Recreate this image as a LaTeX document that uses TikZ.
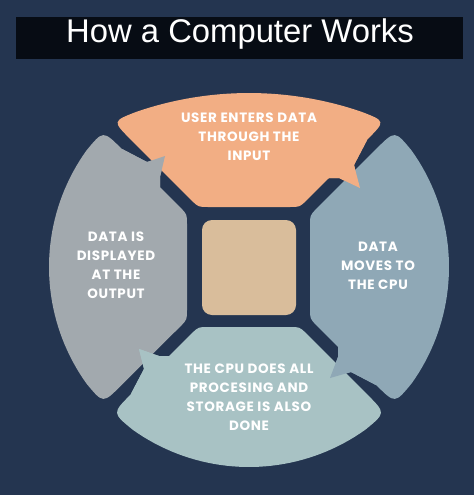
\documentclass[tikz,border=0pt]{standalone}
\usepackage{fontspec}
\setmainfont{Liberation Sans}
\newfontfamily\segfont{Poppins}[LetterSpace=5]
\usetikzlibrary{calc}
\definecolor{bgcol}{HTML}{243550}
\definecolor{barcol}{HTML}{070C14}
\definecolor{orcol}{HTML}{F2AE84}
\definecolor{grcol}{HTML}{A2A9AE}
\definecolor{blcol}{HTML}{8FA8B6}
\definecolor{btcol}{HTML}{A8C2C4}
\definecolor{sqcol}{HTML}{D9BD9B}
\begin{document}
\begin{tikzpicture}[x=1pt,y=-1pt,
  segtext/.style={text=white, align=center, inner sep=0pt,
    font=\segfont\bfseries\fontsize{13.5}{19}\selectfont}]
\fill[bgcol] (0,0) rectangle (474,495);
\path[use as bounding box] (0,0) rectangle (474,495);
% title bar
\fill[barcol] (16,17) rectangle (463,59);
\node (title) at (240,42.7) [anchor=base, text=white, inner sep=0pt,
  font=\fontsize{32.8}{38}\selectfont] {How a Computer Works};
% ---------- coordinates ----------
% gray (left)
\coordinate (gK1) at (103.1,130.3); \coordinate (gA1) at (121.5,148.7);
\coordinate (gP1) at (147,162); \coordinate (gT) at (165,156);
\coordinate (gP2) at (160,177); \coordinate (gP3) at (160,187.2);
\coordinate (gI1) at (187,214.2); \coordinate (gI2) at (187,319.8);
\coordinate (gK2) at (103.1,403.7); \coordinate (gA2) at (121.5,385.0);
\coordinate (gB2) at (86.5,383.6);
% orange (top)
\coordinate (oKR) at (385.7,121.1); \coordinate (oAR) at (367.3,139.5);
\coordinate (oP1) at (354,165); \coordinate (oT) at (360,188);
\coordinate (oP2) at (339,178); \coordinate (oP3) at (329,178);
\coordinate (oIR) at (299.8,207); \coordinate (oIL) at (198.2,207);
\coordinate (oAL) at (130.7,139.5); \coordinate (oKL) at (112.3,121.1);
\coordinate (oBL) at (136.7,111.7);
% blue (right)
\coordinate (bKT) at (394.9,130.3); \coordinate (bBT) at (411.5,150.4);
\coordinate (bKB) at (394.9,403.7); \coordinate (bAB) at (376.5,385.3);
\coordinate (bP1) at (351,372); \coordinate (bT) at (330,378);
\coordinate (bP2) at (338,357); \coordinate (bP3) at (338,347);
\coordinate (bIB) at (310,318.8); \coordinate (bIT) at (310,215.2);
\coordinate (bAT) at (376.5,148.7);
% bottom
\coordinate (cKL) at (112.25,412.95); \coordinate (cAL) at (130.6,394.6);
\coordinate (cP1) at (144,369); \coordinate (cT) at (139,349);
\coordinate (cP2) at (159,356); \coordinate (cP3) at (169,356.2);
\coordinate (cIL) at (198.2,327); \coordinate (cIR) at (299.8,327);
\coordinate (cAR) at (367.4,394.6); \coordinate (cKR) at (385.75,412.95);
\coordinate (cBR) at (365.6,429.5);
% ---------- bodies ----------
\fill[grcol] plot[domain=144.35:215.65, samples=40] ({249+200*cos(\x)},{267+200*sin(\x)})
  .. controls (gK1) .. (gA1) -- (gP1) -- (gT) -- (gP2) -- (gP3)
  -- ($(gI1)!10pt!(gP3)$) .. controls (gI1) .. ($(gI1)!10pt!(gI2)$)
  -- ($(gI2)!10pt!(gI1)$) .. controls (gI2) .. ($(gI2)!10pt!(gA2)$)
  -- (gA2) .. controls (gK2) .. (gB2) -- cycle;
\fill[orcol] plot[domain=251.1:288.9, samples=40] ({249+346.6*cos(\x)},{439.6+346.6*sin(\x)})
  .. controls (oKR) .. (oAR) -- (oP1) -- (oT) -- (oP2) -- (oP3)
  -- ($(oIR)!10pt!(oP3)$) .. controls (oIR) .. ($(oIR)!10pt!(oIL)$)
  -- ($(oIL)!10pt!(oIR)$) .. controls (oIL) .. ($(oIL)!10pt!(oAL)$)
  -- (oAL) .. controls (oKL) .. (oBL) -- cycle;
\fill[blcol] plot[domain=324.35:395.65, samples=40] ({249+200*cos(\x)},{267+200*sin(\x)})
  .. controls (bKB) .. (bAB) -- (bP1) -- (bT) -- (bP2) -- (bP3)
  -- ($(bIB)!10pt!(bP3)$) .. controls (bIB) .. ($(bIB)!10pt!(bIT)$)
  -- ($(bIT)!10pt!(bIB)$) .. controls (bIT) .. ($(bIT)!10pt!(bAT)$)
  -- (bAT) .. controls (bKT) .. (bBT) -- cycle;
\fill[btcol] plot[domain=54.35:125.65, samples=40] ({249+200*cos(\x)},{267+200*sin(\x)})
  .. controls (cKL) .. (cAL) -- (cP1) -- (cT) -- (cP2) -- (cP3)
  -- ($(cIL)!10pt!(cP3)$) .. controls (cIL) .. ($(cIL)!10pt!(cIR)$)
  -- ($(cIR)!10pt!(cIL)$) .. controls (cIR) .. ($(cIR)!10pt!(cAR)$)
  -- (cAR) .. controls (cKR) .. (cBR) -- cycle;
% ---------- arrow tips on top ----------
\fill[grcol] (gA1) -- (gP1) -- (gT) -- (gP2) -- (gP3) -- cycle;
\fill[orcol] (oAR) -- (oP1) -- (oT) -- (oP2) -- (oP3) -- cycle;
\fill[blcol] (bAB) -- (bP1) -- (bT) -- (bP2) -- (bP3) -- cycle;
\fill[btcol] (cAL) -- (cP1) -- (cT) -- (cP2) -- (cP3) -- cycle;
% center square
\node (sq) at (249,267.5) [fill=sqcol, rounded corners=10pt, inner sep=0pt,
  minimum width=94pt, minimum height=95pt] {};
% texts
\node (t1) at (249,137) [segtext] {USER ENTERS DATA\\THROUGH THE\\INPUT};
\node (t2) at (378,266) [segtext] {DATA\\MOVES TO\\THE CPU};
\node (t3) at (249,397.5) [segtext] {THE CPU DOES ALL\\PROCESING AND\\STORAGE IS ALSO\\DONE};
\node (t4) at (116,265.5) [segtext] {DATA IS\\DISPLAYED\\AT THE\\OUTPUT};
\end{tikzpicture}
\end{document}
